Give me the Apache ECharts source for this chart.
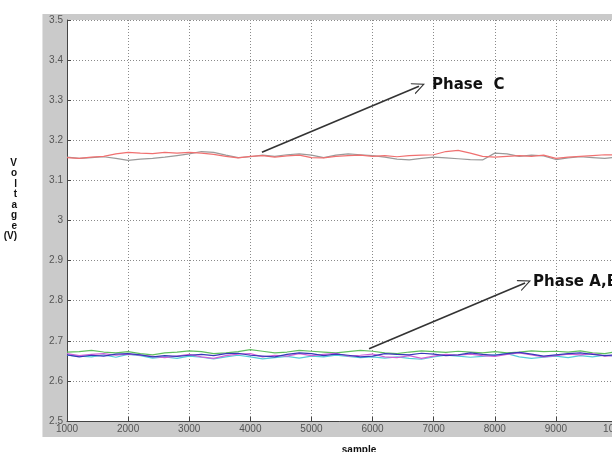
<!DOCTYPE html>
<html>
<head>
<meta charset="utf-8">
<script src="https://cdn.jsdelivr.net/npm/echarts@6/dist/echarts.min.js"></script>
<style>
html,body{margin:0;padding:0;background:#fff;}
#wrap{position:relative;width:612px;height:452px;overflow:hidden;}
#panel{position:absolute;left:42px;top:14px;width:570px;height:423px;background:#cacaca;border-left:1px solid #e2e2e2;}
#chart{position:absolute;left:0;top:0;width:612px;height:452px;}
</style>
</head>
<body>
<div id="wrap"><div id="panel"></div><div id="chart"></div></div>
<script>
const samples = [1000,1200,1400,1600,1800,2000,2200,2400,2600,2800,3000,3200,3400,3600,3800,4000,4200,4400,4600,4800,5000,5200,5400,5600,5800,6000,6200,6400,6600,6800,7000,7200,7400,7600,7800,8000,8200,8400,8600,8800,9000,9200,9400,9600,9800,10000];

const phaseCRed = [3.157,3.155,3.158,3.160,3.166,3.170,3.168,3.167,3.170,3.168,3.170,3.168,3.165,3.160,3.156,3.160,3.162,3.158,3.161,3.163,3.157,3.156,3.160,3.162,3.163,3.160,3.162,3.159,3.162,3.163,3.164,3.172,3.175,3.168,3.160,3.158,3.160,3.162,3.160,3.163,3.155,3.158,3.160,3.162,3.164,3.163];
const phaseCGray = [3.158,3.155,3.157,3.159,3.155,3.150,3.153,3.155,3.158,3.162,3.166,3.172,3.170,3.163,3.157,3.159,3.163,3.160,3.164,3.166,3.163,3.157,3.163,3.166,3.164,3.162,3.158,3.153,3.151,3.155,3.158,3.156,3.154,3.152,3.151,3.168,3.166,3.160,3.163,3.161,3.152,3.156,3.159,3.157,3.155,3.158];

const abGreen = [2.672,2.673,2.676,2.672,2.670,2.673,2.668,2.665,2.670,2.672,2.675,2.673,2.668,2.670,2.673,2.678,2.674,2.670,2.672,2.676,2.674,2.672,2.670,2.673,2.676,2.674,2.670,2.668,2.672,2.675,2.673,2.671,2.674,2.672,2.670,2.673,2.670,2.672,2.675,2.673,2.674,2.672,2.675,2.670,2.668,2.673];
const abBlue = [2.665,2.660,2.664,2.662,2.667,2.668,2.665,2.660,2.663,2.661,2.664,2.666,2.663,2.668,2.669,2.664,2.662,2.660,2.666,2.670,2.668,2.663,2.667,2.664,2.660,2.662,2.668,2.666,2.665,2.669,2.667,2.663,2.665,2.670,2.666,2.664,2.668,2.671,2.667,2.662,2.665,2.668,2.670,2.666,2.663,2.665];
const abMagenta = [2.668,2.663,2.666,2.668,2.664,2.667,2.664,2.661,2.658,2.662,2.666,2.660,2.656,2.663,2.667,2.668,2.660,2.664,2.662,2.668,2.663,2.666,2.669,2.662,2.664,2.667,2.660,2.658,2.663,2.656,2.662,2.666,2.664,2.667,2.663,2.661,2.666,2.670,2.665,2.660,2.663,2.667,2.665,2.668,2.662,2.664];
const abCyan = [2.664,2.662,2.660,2.665,2.659,2.666,2.663,2.657,2.660,2.656,2.662,2.659,2.655,2.660,2.664,2.660,2.655,2.658,2.661,2.657,2.662,2.660,2.664,2.661,2.658,2.660,2.657,2.660,2.656,2.654,2.660,2.664,2.662,2.659,2.661,2.665,2.668,2.660,2.656,2.659,2.662,2.658,2.663,2.660,2.664,2.661];

const xTicks = [1000,2000,3000,4000,5000,6000,7000,8000,9000,10000];
const yTicks = [2.5,2.6,2.7,2.8,2.9,3.0,3.1,3.2,3.3,3.4,3.5];

const annotationC = {text:'Phase  C', from:[4190,3.170], to:[6760,3.335], textAt:[6974,3.338]};
const annotationAB = {text:'Phase A,B', from:[5943,2.680], to:[8496,2.844], textAt:[8627,2.846]};

const pairs = vals => samples.map((s,i)=>[s, vals[i]]);
const chevron = 'path://M0,10 L5,0 L10,10 L9,10 L5,2 L1,10 Z';

function lineSeries(name, vals, color){
  return {name, type:'line', data:pairs(vals), showSymbol:false, symbol:'none',
    lineStyle:{color, width:1.2}, itemStyle:{color}, animation:false, z:2};
}

const series = [
  lineSeries('Phase C 1', phaseCGray, '#9a9a9a'),
  lineSeries('Phase C 2', phaseCRed, '#f07070'),
  lineSeries('Phase A,B 1', abGreen, '#5fbf5f'),
  lineSeries('Phase A,B 2', abCyan, '#55ccd8'),
  lineSeries('Phase A,B 3', abMagenta, '#d060d8'),
  lineSeries('Phase A,B 4', abBlue, '#3838b8'),
];

series.push({
  name:'annotations', type:'line', data:[], silent:true, animation:false, z:5,
  markLine:{
    silent:true, animation:false, symbol:['none', chevron], symbolSize:[12,13],
    label:{show:false},
    lineStyle:{color:'#333', width:1.6, type:'solid'},
    data:[
      [{coord:annotationC.from},{coord:annotationC.to}],
      [{coord:annotationAB.from},{coord:annotationAB.to}]
    ]
  },
  markPoint:{
    silent:true, animation:false, symbol:'circle', symbolSize:0,
    label:{show:true, position:'right', distance:0, color:'#111', fontWeight:'bold', fontSize:15, fontFamily:'DejaVu Sans, sans-serif'},
    data:[
      {coord:annotationC.textAt, label:{formatter:annotationC.text}},
      {coord:annotationAB.textAt, label:{formatter:annotationAB.text}}
    ]
  }
});

const chart = echarts.init(document.getElementById('chart'), null, {renderer:'canvas'});
chart.setOption({
  animation:false,
  backgroundColor:'transparent',
  grid:{left:67, top:20, right:-5, bottom:31, show:true, backgroundColor:'#fff', borderWidth:0, outerBoundsMode:'none'},
  xAxis:{
    type:'value', min:xTicks[0], max:xTicks[xTicks.length-1], interval:1000,
    name:'sample', nameLocation:'middle', nameGap:24,
    nameTextStyle:{color:'#111', fontWeight:'bold', fontSize:10, fontFamily:'Liberation Sans, Arial, sans-serif', padding:[0,0,0,34]},
    axisLine:{show:true, onZero:false, lineStyle:{color:'#444', width:1}},
    axisTick:{show:true, inside:true, length:4, lineStyle:{color:'#444'}},
    axisLabel:{color:'#555', fontSize:10, margin:3, fontFamily:'Liberation Sans, Arial, sans-serif', formatter:v=>String(v)},
    splitLine:{show:true, lineStyle:{color:'#8a8a8a', width:1, type:[1,2]}}
  },
  yAxis:{
    type:'value', min:yTicks[0], max:yTicks[yTicks.length-1], interval:0.1,
    name:'V\no\nl\nt\na\ng\ne\n(V)\n\n\n\n', nameLocation:'middle', nameGap:50, nameRotate:0,
    nameTextStyle:{color:'#111', fontWeight:'bold', fontSize:10, lineHeight:10.5, fontFamily:'Liberation Sans, Arial, sans-serif'},
    axisLine:{show:true, onZero:false, lineStyle:{color:'#444', width:1}},
    axisTick:{show:true, inside:true, length:4, lineStyle:{color:'#444'}},
    axisLabel:{color:'#555', fontSize:10, margin:4, fontFamily:'Liberation Sans, Arial, sans-serif', formatter:v=>String(+v.toFixed(1))},
    splitLine:{show:true, lineStyle:{color:'#8a8a8a', width:1, type:[1,2]}}
  },
  series
});
</script>
</body>
</html>
